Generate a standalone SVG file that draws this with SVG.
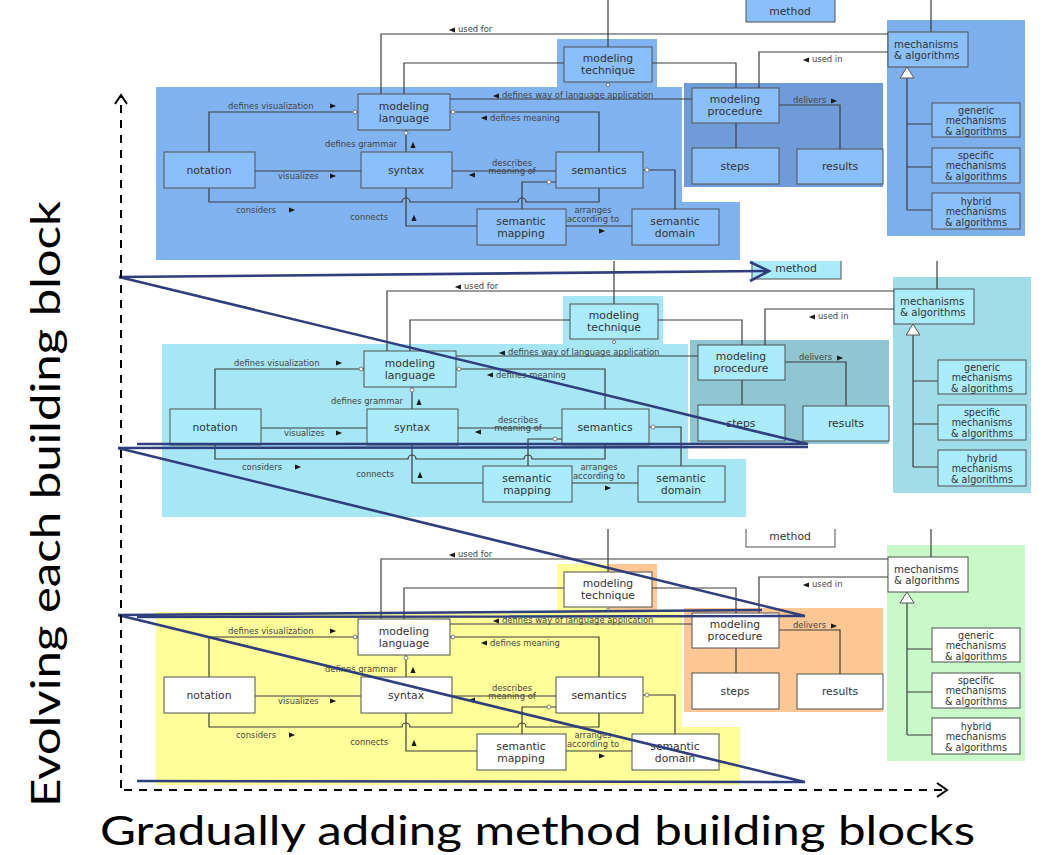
<svg xmlns="http://www.w3.org/2000/svg" xmlns:xlink="http://www.w3.org/1999/xlink" width="1058" height="855" viewBox="0 0 1058 855">
<style>
.cn path{fill:none;stroke:#3c3c3c;stroke-width:1.2}
.box rect{stroke:#505050;stroke-width:1}
.box text{font-family:"DejaVu Sans",sans-serif;font-size:10.8px;fill:#333;text-anchor:middle}
.box text.l{text-anchor:start;font-size:10.2px}
.sm text{font-size:9.6px}
.lb text{font-family:"DejaVu Sans",sans-serif;font-size:8.4px;fill:#444}
.gen{fill:#fff;stroke:#555;stroke-width:1}
.dots circle{fill:#fff;stroke:#666;stroke-width:.8}
.bl .lang,.bl .tech,.bl .tech2{fill:#80b3f0}
.bl .proc{fill:#6f9cd8}
.bl .mech{fill:#7cafec}
.bl .box rect{fill:#8bbff9}
.cy .lang,.cy .tech,.cy .tech2{fill:#a6e6f5}
.cy .proc{fill:#8fc6d2}
.cy .mech{fill:#a1dce9}
.cy .box rect{fill:#aaecfb}
.ye .lang,.ye .tech{fill:#ffff9a}
.ye .tech2,.ye .proc{fill:#fdc894}
.ye .mech{fill:#c9f8c9}
.ye .box rect{fill:#ffffff}
.flow path{fill:none;stroke:#2f3e7c;stroke-width:2.6}
.axis{fill:none;stroke:#000;stroke-width:2}
.title{font-family:Lato,"Liberation Sans",Arial,sans-serif;font-size:40px;fill:#000}
</style>
<defs>
<path id="ar" d="M-3,-2.6L3.2,0L-3,2.6Z" fill="#1a1a1a"/>
<path id="al" d="M3,-2.6L-3.2,0L3,2.6Z" fill="#1a1a1a"/>
<path id="au" d="M-2.6,3L0,-3.2L2.6,3Z" fill="#1a1a1a"/>
<clipPath id="clipPanel" clipPathUnits="userSpaceOnUse"><rect x="0" y="4" width="1058" height="270"/></clipPath>
</defs>
<rect width="1058" height="855" fill="#fff"/>

<!-- TOP PANEL -->
<g id="panel-top" class="bl">
<g id="t-areas">
<path class="lang" d="M156,87H682V202H740V260H156Z"/>
<rect class="tech" x="557" y="39" width="51" height="48"/>
<rect class="tech2" x="608" y="39" width="49" height="48"/>
<rect class="proc" x="684" y="83" width="199" height="104"/>
<rect class="mech" x="887" y="20" width="138" height="216"/>
</g>
<g id="t-connectors">
<g class="cn">
<path d="M381,94V34H888"/>
<path d="M404,94V63H564"/>
<path d="M652,63H736V88"/>
<path d="M888,52H759V88"/>
<path d="M450,99H692"/>
<path d="M450,112H599V152"/>
<path d="M358,112H209V152"/>
<path d="M406,130V152"/>
<path d="M255,171H361"/>
<path d="M452,171H556"/>
<path d="M209,188V202H402a4,4 0 0 1 8,0H518a4,4 0 0 1 8,0H599V188"/>
<path d="M406,188V226H477"/>
<path d="M522,209V182H556"/>
<path d="M566,226H632"/>
<path d="M643,170H675V209"/>
<path d="M608,47V-12"/>
<path d="M931,32V-12"/>
<path d="M907,77V210M907,124H932M907,167H932M907,210H932"/>
<path d="M736,123V148"/>
<path d="M779,105H840V149"/>
</g>
<polygon class="gen" points="907,67 900,78 914,78"/>
<g class="dots"><circle cx="355" cy="112" r="2"/><circle cx="453" cy="112" r="2"/><circle cx="406" cy="133" r="2"/><circle cx="549" cy="182" r="2"/><circle cx="647" cy="170" r="2"/><circle cx="608" cy="85" r="1.6"/></g>
<g class="lb">
<text x="458" y="32">used for</text>
<text x="502" y="98">defines way of language application</text>
<text x="490" y="121">defines meaning</text>
<text x="228" y="109">defines visualization</text>
<text x="397" y="147" text-anchor="end">defines grammar</text>
<text x="278" y="179">visualizes</text>
<text x="512" y="166" text-anchor="middle">describes</text>
<text x="512" y="174" text-anchor="middle">meaning of</text>
<text x="236" y="213">considers</text>
<text x="388" y="220" text-anchor="end">connects</text>
<text x="593" y="213" text-anchor="middle">arranges</text>
<text x="593" y="222" text-anchor="middle">according to</text>
<text x="812" y="62">used in</text>
<text x="793" y="103">delivers</text>
</g>
<use href="#al" x="452" y="30"/><use href="#al" x="496" y="96"/><use href="#al" x="484" y="118"/>
<use href="#ar" x="333" y="106"/><use href="#au" x="413" y="145"/><use href="#ar" x="333" y="176"/>
<use href="#al" x="472" y="175"/><use href="#ar" x="292" y="210"/><use href="#au" x="414" y="218"/>
<use href="#ar" x="602" y="231"/><use href="#al" x="806" y="60"/><use href="#ar" x="834" y="101"/>
</g>
<g id="t-method" class="box"><rect x="746" y="-6" width="89" height="28"/><text x="790" y="15">method</text></g>
<g id="t-modeling-technique" class="box"><rect x="564" y="47" width="88" height="35"/><text x="608" y="62">modeling</text><text x="608" y="74">technique</text></g>
<g id="t-modeling-language" class="box"><rect x="358" y="94" width="92" height="36"/><text x="404" y="110">modeling</text><text x="404" y="122">language</text></g>
<g id="t-notation" class="box"><rect x="164" y="152" width="91" height="36"/><text x="209" y="174">notation</text></g>
<g id="t-syntax" class="box"><rect x="361" y="152" width="91" height="36"/><text x="406" y="174">syntax</text></g>
<g id="t-semantics" class="box"><rect x="556" y="152" width="87" height="36"/><text x="599" y="174">semantics</text></g>
<g id="t-semantic-mapping" class="box"><rect x="477" y="209" width="89" height="36"/><text x="521" y="225">semantic</text><text x="521" y="237">mapping</text></g>
<g id="t-semantic-domain" class="box"><rect x="632" y="209" width="87" height="36"/><text x="675" y="225">semantic</text><text x="675" y="237">domain</text></g>
<g id="t-modeling-procedure" class="box"><rect x="692" y="88" width="87" height="35"/><text x="735" y="103">modeling</text><text x="735" y="115">procedure</text></g>
<g id="t-steps" class="box"><rect x="692" y="148" width="87" height="36"/><text x="735" y="170">steps</text></g>
<g id="t-results" class="box"><rect x="797" y="149" width="86" height="35"/><text x="840" y="170">results</text></g>
<g id="t-mechanisms" class="box"><rect x="888" y="32" width="80" height="35"/><text class="l" x="894" y="48">mechanisms</text><text class="l" x="894" y="59">&amp; algorithms</text></g>
<g id="t-generic" class="box sm"><rect x="932" y="103" width="88" height="34"/><text x="976" y="114">generic</text><text x="976" y="124">mechanisms</text><text x="976" y="135">&amp; algorithms</text></g>
<g id="t-specific" class="box sm"><rect x="932" y="148" width="88" height="35"/><text x="976" y="159">specific</text><text x="976" y="169">mechanisms</text><text x="976" y="180">&amp; algorithms</text></g>
<g id="t-hybrid" class="box sm"><rect x="932" y="193" width="88" height="36"/><text x="976" y="205">hybrid</text><text x="976" y="215">mechanisms</text><text x="976" y="226">&amp; algorithms</text></g>
</g>

<!-- MIDDLE PANEL -->
<g id="panel-middle" class="cy" transform="translate(6,257)" clip-path="url(#clipPanel)">
<g id="m-areas">
<path class="lang" d="M156,87H682V202H740V260H156Z"/>
<rect class="tech" x="557" y="39" width="51" height="48"/>
<rect class="tech2" x="608" y="39" width="49" height="48"/>
<rect class="proc" x="684" y="83" width="199" height="104"/>
<rect class="mech" x="887" y="20" width="138" height="216"/>
</g>
<g id="m-connectors">
<g class="cn">
<path d="M381,94V34H888"/>
<path d="M404,94V63H564"/>
<path d="M652,63H736V88"/>
<path d="M888,52H759V88"/>
<path d="M450,99H692"/>
<path d="M450,112H599V152"/>
<path d="M358,112H209V152"/>
<path d="M406,130V152"/>
<path d="M255,171H361"/>
<path d="M452,171H556"/>
<path d="M209,188V202H402a4,4 0 0 1 8,0H518a4,4 0 0 1 8,0H599V188"/>
<path d="M406,188V226H477"/>
<path d="M522,209V182H556"/>
<path d="M566,226H632"/>
<path d="M643,170H675V209"/>
<path d="M608,47V-12"/>
<path d="M931,32V-12"/>
<path d="M907,77V210M907,124H932M907,167H932M907,210H932"/>
<path d="M736,123V148"/>
<path d="M779,105H840V149"/>
</g>
<polygon class="gen" points="907,67 900,78 914,78"/>
<g class="dots"><circle cx="355" cy="112" r="2"/><circle cx="453" cy="112" r="2"/><circle cx="406" cy="133" r="2"/><circle cx="549" cy="182" r="2"/><circle cx="647" cy="170" r="2"/><circle cx="608" cy="85" r="1.6"/></g>
<g class="lb">
<text x="458" y="32">used for</text>
<text x="502" y="98">defines way of language application</text>
<text x="490" y="121">defines meaning</text>
<text x="228" y="109">defines visualization</text>
<text x="397" y="147" text-anchor="end">defines grammar</text>
<text x="278" y="179">visualizes</text>
<text x="512" y="166" text-anchor="middle">describes</text>
<text x="512" y="174" text-anchor="middle">meaning of</text>
<text x="236" y="213">considers</text>
<text x="388" y="220" text-anchor="end">connects</text>
<text x="593" y="213" text-anchor="middle">arranges</text>
<text x="593" y="222" text-anchor="middle">according to</text>
<text x="812" y="62">used in</text>
<text x="793" y="103">delivers</text>
</g>
<use href="#al" x="452" y="30"/><use href="#al" x="496" y="96"/><use href="#al" x="484" y="118"/>
<use href="#ar" x="333" y="106"/><use href="#au" x="413" y="145"/><use href="#ar" x="333" y="176"/>
<use href="#al" x="472" y="175"/><use href="#ar" x="292" y="210"/><use href="#au" x="414" y="218"/>
<use href="#ar" x="602" y="231"/><use href="#al" x="806" y="60"/><use href="#ar" x="834" y="101"/>
</g>
<g id="m-method" class="box"><rect x="746" y="-6" width="89" height="28"/><text x="790" y="15">method</text></g>
<g id="m-modeling-technique" class="box"><rect x="564" y="47" width="88" height="35"/><text x="608" y="62">modeling</text><text x="608" y="74">technique</text></g>
<g id="m-modeling-language" class="box"><rect x="358" y="94" width="92" height="36"/><text x="404" y="110">modeling</text><text x="404" y="122">language</text></g>
<g id="m-notation" class="box"><rect x="164" y="152" width="91" height="36"/><text x="209" y="174">notation</text></g>
<g id="m-syntax" class="box"><rect x="361" y="152" width="91" height="36"/><text x="406" y="174">syntax</text></g>
<g id="m-semantics" class="box"><rect x="556" y="152" width="87" height="36"/><text x="599" y="174">semantics</text></g>
<g id="m-semantic-mapping" class="box"><rect x="477" y="209" width="89" height="36"/><text x="521" y="225">semantic</text><text x="521" y="237">mapping</text></g>
<g id="m-semantic-domain" class="box"><rect x="632" y="209" width="87" height="36"/><text x="675" y="225">semantic</text><text x="675" y="237">domain</text></g>
<g id="m-modeling-procedure" class="box"><rect x="692" y="88" width="87" height="35"/><text x="735" y="103">modeling</text><text x="735" y="115">procedure</text></g>
<g id="m-steps" class="box"><rect x="692" y="148" width="87" height="36"/><text x="735" y="170">steps</text></g>
<g id="m-results" class="box"><rect x="797" y="149" width="86" height="35"/><text x="840" y="170">results</text></g>
<g id="m-mechanisms" class="box"><rect x="888" y="32" width="80" height="35"/><text class="l" x="894" y="48">mechanisms</text><text class="l" x="894" y="59">&amp; algorithms</text></g>
<g id="m-generic" class="box sm"><rect x="932" y="103" width="88" height="34"/><text x="976" y="114">generic</text><text x="976" y="124">mechanisms</text><text x="976" y="135">&amp; algorithms</text></g>
<g id="m-specific" class="box sm"><rect x="932" y="148" width="88" height="35"/><text x="976" y="159">specific</text><text x="976" y="169">mechanisms</text><text x="976" y="180">&amp; algorithms</text></g>
<g id="m-hybrid" class="box sm"><rect x="932" y="193" width="88" height="36"/><text x="976" y="205">hybrid</text><text x="976" y="215">mechanisms</text><text x="976" y="226">&amp; algorithms</text></g>
</g>

<!-- BOTTOM PANEL -->
<g id="panel-bottom" class="ye" transform="translate(0,525)" clip-path="url(#clipPanel)">
<g id="b-areas">
<path class="lang" d="M156,87H682V202H740V260H156Z"/>
<rect class="tech" x="557" y="39" width="51" height="48"/>
<rect class="tech2" x="608" y="39" width="49" height="48"/>
<rect class="proc" x="684" y="83" width="199" height="104"/>
<rect class="mech" x="887" y="20" width="138" height="216"/>
</g>
<g id="b-connectors">
<g class="cn">
<path d="M381,94V34H888"/>
<path d="M404,94V63H564"/>
<path d="M652,63H736V88"/>
<path d="M888,52H759V88"/>
<path d="M450,99H692"/>
<path d="M450,112H599V152"/>
<path d="M358,112H209V152"/>
<path d="M406,130V152"/>
<path d="M255,171H361"/>
<path d="M452,171H556"/>
<path d="M209,188V202H402a4,4 0 0 1 8,0H518a4,4 0 0 1 8,0H599V188"/>
<path d="M406,188V226H477"/>
<path d="M522,209V182H556"/>
<path d="M566,226H632"/>
<path d="M643,170H675V209"/>
<path d="M608,47V-12"/>
<path d="M931,32V-12"/>
<path d="M907,77V210M907,124H932M907,167H932M907,210H932"/>
<path d="M736,123V148"/>
<path d="M779,105H840V149"/>
</g>
<polygon class="gen" points="907,67 900,78 914,78"/>
<g class="dots"><circle cx="355" cy="112" r="2"/><circle cx="453" cy="112" r="2"/><circle cx="406" cy="133" r="2"/><circle cx="549" cy="182" r="2"/><circle cx="647" cy="170" r="2"/><circle cx="608" cy="85" r="1.6"/></g>
<g class="lb">
<text x="458" y="32">used for</text>
<text x="502" y="98">defines way of language application</text>
<text x="490" y="121">defines meaning</text>
<text x="228" y="109">defines visualization</text>
<text x="397" y="147" text-anchor="end">defines grammar</text>
<text x="278" y="179">visualizes</text>
<text x="512" y="166" text-anchor="middle">describes</text>
<text x="512" y="174" text-anchor="middle">meaning of</text>
<text x="236" y="213">considers</text>
<text x="388" y="220" text-anchor="end">connects</text>
<text x="593" y="213" text-anchor="middle">arranges</text>
<text x="593" y="222" text-anchor="middle">according to</text>
<text x="812" y="62">used in</text>
<text x="793" y="103">delivers</text>
</g>
<use href="#al" x="452" y="30"/><use href="#al" x="496" y="96"/><use href="#al" x="484" y="118"/>
<use href="#ar" x="333" y="106"/><use href="#au" x="413" y="145"/><use href="#ar" x="333" y="176"/>
<use href="#al" x="472" y="175"/><use href="#ar" x="292" y="210"/><use href="#au" x="414" y="218"/>
<use href="#ar" x="602" y="231"/><use href="#al" x="806" y="60"/><use href="#ar" x="834" y="101"/>
</g>
<g id="b-method" class="box"><rect x="746" y="-6" width="89" height="28"/><text x="790" y="15">method</text></g>
<g id="b-modeling-technique" class="box"><rect x="564" y="47" width="88" height="35"/><text x="608" y="62">modeling</text><text x="608" y="74">technique</text></g>
<g id="b-modeling-language" class="box"><rect x="358" y="94" width="92" height="36"/><text x="404" y="110">modeling</text><text x="404" y="122">language</text></g>
<g id="b-notation" class="box"><rect x="164" y="152" width="91" height="36"/><text x="209" y="174">notation</text></g>
<g id="b-syntax" class="box"><rect x="361" y="152" width="91" height="36"/><text x="406" y="174">syntax</text></g>
<g id="b-semantics" class="box"><rect x="556" y="152" width="87" height="36"/><text x="599" y="174">semantics</text></g>
<g id="b-semantic-mapping" class="box"><rect x="477" y="209" width="89" height="36"/><text x="521" y="225">semantic</text><text x="521" y="237">mapping</text></g>
<g id="b-semantic-domain" class="box"><rect x="632" y="209" width="87" height="36"/><text x="675" y="225">semantic</text><text x="675" y="237">domain</text></g>
<g id="b-modeling-procedure" class="box"><rect x="692" y="88" width="87" height="35"/><text x="735" y="103">modeling</text><text x="735" y="115">procedure</text></g>
<g id="b-steps" class="box"><rect x="692" y="148" width="87" height="36"/><text x="735" y="170">steps</text></g>
<g id="b-results" class="box"><rect x="797" y="149" width="86" height="35"/><text x="840" y="170">results</text></g>
<g id="b-mechanisms" class="box"><rect x="888" y="32" width="80" height="35"/><text class="l" x="894" y="48">mechanisms</text><text class="l" x="894" y="59">&amp; algorithms</text></g>
<g id="b-generic" class="box sm"><rect x="932" y="103" width="88" height="34"/><text x="976" y="114">generic</text><text x="976" y="124">mechanisms</text><text x="976" y="135">&amp; algorithms</text></g>
<g id="b-specific" class="box sm"><rect x="932" y="148" width="88" height="35"/><text x="976" y="159">specific</text><text x="976" y="169">mechanisms</text><text x="976" y="180">&amp; algorithms</text></g>
<g id="b-hybrid" class="box sm"><rect x="932" y="193" width="88" height="36"/><text x="976" y="205">hybrid</text><text x="976" y="215">mechanisms</text><text x="976" y="226">&amp; algorithms</text></g>
</g>

<!-- FLOW OVERLAY -->
<g id="flow-lines" class="flow">
<path d="M119,277L768,271"/>
<path d="M750,262L769,271L750,281"/>
<path d="M119,277L808,444L137,444"/>
<path d="M118,448L808,447"/>
<path d="M118,448L805,616L137,617"/>
<path d="M118,615L762,610"/>
<path d="M118,615L805,782L137,781"/>
</g>

<!-- AXES -->
<g id="axes">
<path class="axis" d="M121,788V97" stroke-dasharray="8,7"/>
<path class="axis" d="M115,104L121,95L127,104"/>
<path class="axis" d="M124,790H944" stroke-dasharray="8,7"/>
<path class="axis" d="M937,783L947,790L937,797"/>
</g>

<text id="y-title" class="title" text-anchor="middle" transform="translate(60,504) rotate(-90)" textLength="606" lengthAdjust="spacingAndGlyphs">Evolving each building block</text>
<text id="x-title" class="title" x="100" y="845" textLength="875" lengthAdjust="spacingAndGlyphs">Gradually adding method building blocks</text>
</svg>
